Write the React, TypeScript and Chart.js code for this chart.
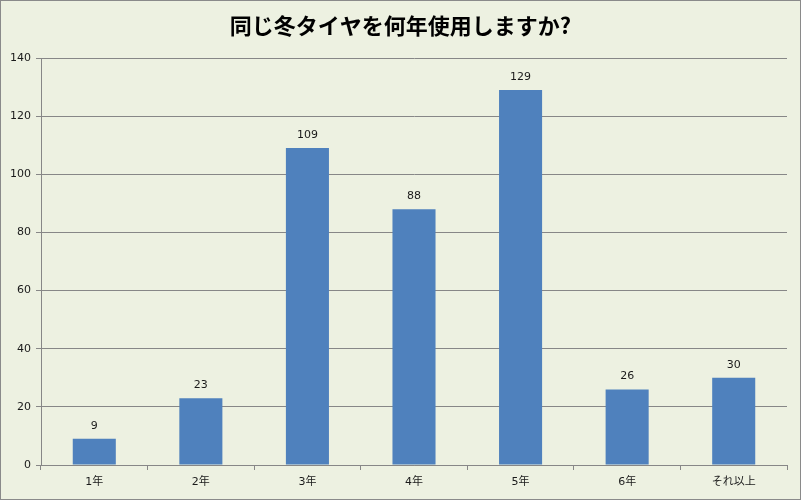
import React, { useEffect, useRef } from "react";
import { Chart, registerables } from "chart.js";

Chart.register(...registerables);

const TITLE = "同じ冬タイヤを何年使用しますか?";
const categories = ["1年", "2年", "3年", "4年", "5年", "6年", "それ以上"];
const counts = [9, 23, 109, 88, 129, 26, 30];
const yTicks = [0, 20, 40, 60, 80, 100, 120, 140];

const BG = "#EDF1E1";
const BAR = "#4F81BD";
const GRID = "#878787";
const TEXT = "#1A1A1A";
const FONT = "'Noto Sans CJK JP', 'DejaVu Sans', sans-serif";
const TICK_FONT = "'DejaVu Sans', 'Noto Sans CJK JP', sans-serif";

const decor = {
  id: "decor",
  beforeDraw(chart: any) {
    const { ctx, width, height } = chart;
    ctx.save();
    ctx.fillStyle = BG;
    ctx.fillRect(0, 0, width, height);
    ctx.strokeStyle = "#8A8A8A";
    ctx.lineWidth = 1;
    ctx.strokeRect(0.5, 0.5, width - 1, height - 1);
    ctx.restore();
  },
  afterDraw(chart: any) {
    const { ctx, width } = chart;
    ctx.save();
    ctx.fillStyle = "#000000";
    ctx.font = `bold 22px ${FONT}`;
    ctx.textAlign = "center";
    ctx.textBaseline = "middle";
    ctx.fillText(TITLE, width / 2, 26);
    const meta = chart.getDatasetMeta(0);
    ctx.font = `11px ${TICK_FONT}`;
    ctx.fillStyle = TEXT;
    meta.data.forEach((bar: any, i: number) => {
      ctx.fillText(String(counts[i]), bar.x, bar.y - 13);
    });
    ctx.restore();
  },
};

export default function App() {
  const ref = useRef<HTMLCanvasElement>(null);
  useEffect(() => {
    document.body.style.margin = "0";
    const chart = new Chart(ref.current!, {
      type: "bar",
      data: {
        labels: categories,
        datasets: [
          {
            data: counts,
            backgroundColor: BAR,
            borderWidth: 0,
            barPercentage: 0.8,
            categoryPercentage: 0.505,
          },
        ],
      },
      options: {
        animation: false,
        responsive: false,
        devicePixelRatio: 1,
        layout: { padding: { top: 58, right: 14, left: 0, bottom: 0 } },
        plugins: {
          legend: { display: false },
          tooltip: { enabled: false },
          title: { display: false },
        },
        scales: {
          x: {
            offset: true,
            grid: {
              offset: true,
              drawOnChartArea: false,
              drawTicks: true,
              tickLength: 5,
              color: GRID,
            },
            border: { display: true, color: GRID, width: 1 },
            ticks: { color: TEXT, font: { size: 11, family: TICK_FONT }, padding: 6, maxRotation: 0 },
            afterFit: (s: any) => {
              s.height = 35;
            },
          },
          y: {
            min: 0,
            max: 140,
            afterBuildTicks: (s: any) => {
              s.ticks = yTicks.map((v) => ({ value: v }));
            },
            grid: { color: GRID, tickLength: 5, drawTicks: true },
            border: { display: true, color: GRID, width: 1 },
            ticks: { color: TEXT, font: { size: 11, family: TICK_FONT }, padding: 5 },
            afterFit: (s: any) => {
              s.width = 41;
            },
          },
        },
      },
      plugins: [decor],
    });
    return () => chart.destroy();
  }, []);
  return (
    <div style={{ width: 801, height: 500 }}>
      <canvas ref={ref} width={801} height={500} style={{ display: "block" }} />
    </div>
  );
}
